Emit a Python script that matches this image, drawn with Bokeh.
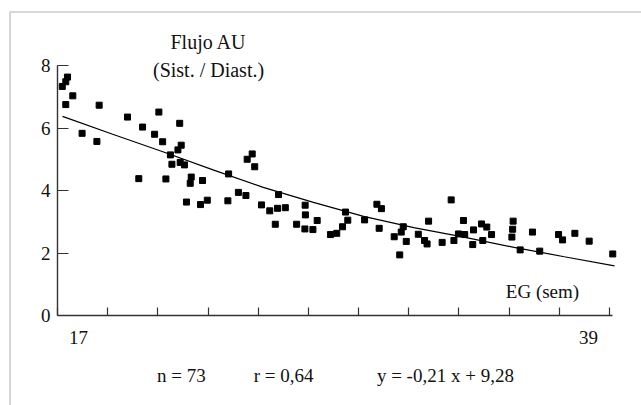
from bokeh.plotting import figure
from bokeh.models import Range1d, FixedTicker, Label, BoxAnnotation
from bokeh.embed import file_html
from bokeh.resources import INLINE

# ---- data ----
eg_weeks = [16.99, 17.13, 17.20, 17.13, 17.41, 17.78, 18.37, 18.46, 19.59, 20.19,
            20.84, 20.67, 20.99, 21.67, 21.73, 21.60, 21.30, 21.36, 21.69, 21.86,
            20.04, 21.12, 22.13, 22.09, 22.58, 23.62, 24.36, 24.56, 24.66, 21.94,
            22.50, 22.77, 23.59, 24.01, 24.31, 24.93, 25.61, 25.26, 25.57, 25.88,
            25.48, 26.67, 26.68, 26.33, 26.66, 26.98, 27.15, 28.28, 28.37, 28.16,
            27.93, 27.68, 29.04, 29.53, 29.71, 29.62, 30.58, 30.50, 30.22, 30.70,
            30.44, 31.59, 31.18, 31.43, 31.53, 32.13, 32.49, 32.60, 32.78, 32.98,
            33.03, 33.38, 33.35, 33.70, 33.91, 33.75, 34.10, 34.96, 34.94, 34.91,
            35.24, 35.73, 36.02, 36.77, 36.93, 37.42, 37.99, 38.93]
sd_ratio = [7.33, 7.48, 7.63, 6.75, 7.03, 5.83, 5.57, 6.73, 6.35, 6.03,
            6.51, 5.80, 5.56, 6.15, 5.45, 5.30, 5.14, 4.84, 4.90, 4.82,
            4.38, 4.37, 4.43, 4.23, 4.32, 4.53, 5.00, 5.17, 4.76, 3.63,
            3.55, 3.69, 3.67, 3.94, 3.84, 3.54, 3.87, 3.35, 3.43, 3.45,
            2.92, 3.53, 3.22, 2.92, 2.77, 2.75, 3.04, 3.31, 3.05, 2.84,
            2.63, 2.59, 3.06, 3.56, 3.42, 2.79, 2.84, 2.67, 2.52, 2.37,
            1.94, 3.02, 2.60, 2.40, 2.29, 2.34, 3.70, 2.40, 2.61, 3.04,
            2.59, 2.74, 2.27, 2.93, 2.83, 2.40, 2.59, 3.02, 2.76, 2.51,
            2.10, 2.67, 2.06, 2.59, 2.42, 2.63, 2.38, 1.97]

fit_weeks = [17, 19, 21, 23, 25, 27, 29, 31, 33, 35, 37, 39]
fit_ratio = [6.37, 5.80, 5.24, 4.66, 4.10, 3.62, 3.17, 2.81, 2.51, 2.18, 1.88, 1.59]

y_ticks = [0, 2, 4, 6, 8]
x_ticks = [16.8, 18.8, 20.8, 22.8, 24.8, 26.8, 28.8, 30.8, 32.8, 34.8, 36.8, 38.8]
x_end_labels = ["17", "39"]
x_end_label_pos = [17.64, 37.96]

title_lines = ["Flujo AU", "(Sist. / Diast.)"]
x_title = "EG (sem)"
stats = ["n = 73", "r = 0,64", "y = -0,21 x + 9,28"]
stats_pos = [21.74, 25.81, 32.26]

FONT = "Liberation Serif"

p = figure(width=641, height=405, output_backend="svg", toolbar_location=None,
           x_range=Range1d(14.847, 40.076), y_range=Range1d(-2.88, 9.76),
           min_border_left=8, min_border_right=0, min_border_top=10,
           min_border_bottom=0)
p.outline_line_color = None
p.xgrid.visible = False
p.ygrid.visible = False
p.background_fill_color = "white"
p.border_fill_color = "white"

# axes, drawn at fixed positions inside the frame
p.yaxis.fixed_location = 16.8
p.xaxis.fixed_location = 0

p.yaxis.ticker = FixedTicker(ticks=y_ticks)
p.yaxis.bounds = (0, 8)
p.yaxis.major_tick_in = 11
p.yaxis.major_tick_out = 0
p.yaxis.minor_tick_line_color = None
p.yaxis.major_label_standoff = 7
p.yaxis.major_label_text_font = FONT
p.yaxis.major_label_text_font_size = "19px"
p.yaxis.major_label_text_color = "#111111"

p.xaxis.ticker = FixedTicker(ticks=x_ticks)
p.xaxis.bounds = (16.8, 38.93)
p.xaxis.major_tick_in = 8
p.xaxis.major_tick_out = 0
p.xaxis.minor_tick_line_color = None
p.xaxis.major_label_overrides = {t: "" for t in x_ticks}

for ax in (p.xaxis[0], p.yaxis[0]):
    ax.axis_line_color = "#333333"
    ax.axis_line_width = 1.4
    ax.major_tick_line_color = "#333333"
    ax.major_tick_line_width = 1.2

# data
p.line(fit_weeks, fit_ratio, line_color="black", line_width=1.2)
p.scatter(eg_weeks, sd_ratio, marker="square", size=6,
          fill_color="black", line_color="black", line_width=1)

# texts
p.add_layout(Label(x=22.82, y=8.75, text=title_lines[0], text_align="center",
                   text_baseline="middle", text_font=FONT, text_font_size="20px",
                   text_color="#111111"))
p.add_layout(Label(x=22.82, y=7.87, text=title_lines[1], text_align="center",
                   text_baseline="middle", text_font=FONT, text_font_size="20px",
                   text_color="#111111"))
p.add_layout(Label(x=36.13, y=0.77, text=x_title, text_align="center",
                   text_baseline="middle", text_font=FONT, text_font_size="19px",
                   text_color="#111111"))
for lab, xp in zip(x_end_labels, x_end_label_pos):
    p.add_layout(Label(x=xp, y=-0.70, text=lab, text_align="center",
                       text_baseline="middle", text_font=FONT, text_font_size="19px",
                       text_color="#111111"))
for s, xp in zip(stats, stats_pos):
    p.add_layout(Label(x=xp, y=-1.92, text=s, text_align="center",
                       text_baseline="middle", text_font=FONT, text_font_size="19px",
                       text_color="#111111"))

# outer frame (top and left edges)
p.add_layout(BoxAnnotation(left=9.5, right=2000, top=11.5, bottom=2000,
                           left_units="canvas", right_units="canvas",
                           top_units="canvas", bottom_units="canvas",
                           fill_color=None, line_color="#7a7a7a", line_width=2))

open("out.html", "w").write(file_html(p, INLINE))
